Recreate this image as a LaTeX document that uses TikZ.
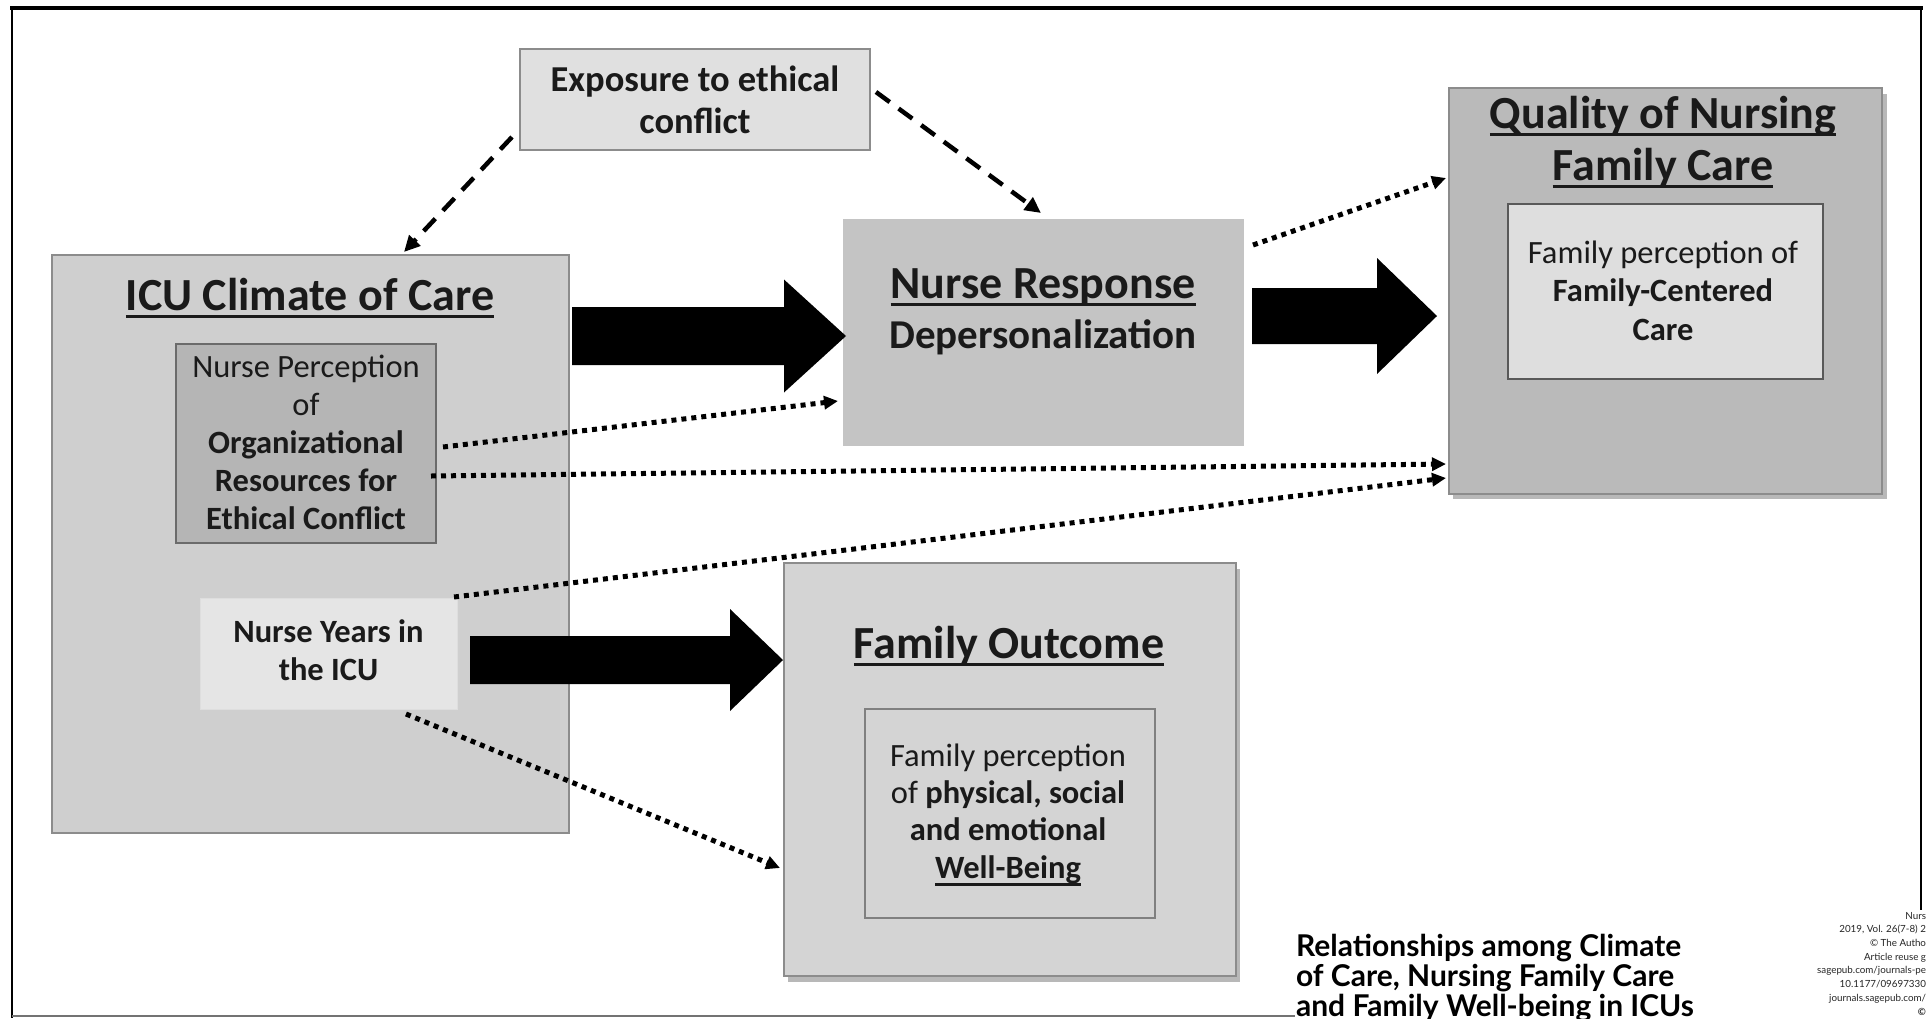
\documentclass[tikz,border=0pt]{standalone}
\usepackage{fontspec}
\setmainfont{Carlito}
\newfontfamily\capfont{Lato}
\usetikzlibrary{arrows.meta,calc}
\definecolor{txt}{HTML}{1A1A1A}
\newsavebox\ulbox
\newcommand\ttl[1]{\sbox\ulbox{#1}\rlap{\vrule height -5pt depth 7.8pt width \wd\ulbox}\usebox\ulbox}
\newcommand\fatarrow[5]{%
  \fill[black] let \p1=(#1), \p2=(#2) in
    (\x1,\y2+#3) -- (\x2-#5,\y2+#3) -- (\x2-#5,\y2+#4) -- (\x2,\y2)
    -- (\x2-#5,\y2-#4) -- (\x2-#5,\y2-#3) -- (\x1,\y2-#3) -- cycle;}
\begin{document}
\begin{tikzpicture}[x=1pt,y=-1pt,
  box/.style={inner sep=0pt, outer sep=0pt, line width=2.5pt},
  lbl/.style={inner sep=0pt, outer sep=0pt, align=center, text=txt},
  bigt/.style={lbl, font=\fontsize{46}{52}\selectfont\bfseries},
  midt/.style={lbl, font=\fontsize{32.5}{38}\selectfont},
  dasharr/.style={line width=4.5pt, dash pattern=on 17pt off 11pt, -{Triangle[length=16pt,width=15pt]}},
  dotarr/.style={line width=5pt, dash pattern=on 5pt off 5pt, -{Triangle[length=14pt,width=13pt]}},
  shadow/.style={fill=black!28, draw=none}
]
\useasboundingbox (0,0) rectangle (1926,1018);
\clip (0,0) rectangle (1926,1018);
\fill[white] (0,0) rectangle (1926,1018);

% frame
\draw[line width=4pt] (10,8) -- (1923,8);
\draw[line width=2.5pt] (12,8) -- (12,1018);
\draw[line width=2.5pt] (1921,8) -- (1921,910);
\draw[line width=2pt, black!55] (12,1016) -- (1295,1016);

% shadows
\fill[shadow] (1453,94) rectangle (1887,499);
\fill[shadow] (788,569) rectangle (1240,982);

% boxes
\node[box, draw=black!45, fill=black!12, minimum width=350pt, minimum height=101pt] (expo) at (695,99.5) {};
\node[box, draw=black!45, fill=black!19, minimum width=517pt, minimum height=578pt] (icu) at (310.5,544) {};
\node[box, draw=black!58, fill=black!29, minimum width=260pt, minimum height=199pt] (perc) at (306,443.5) {};
\node[box, draw=black!13, line width=1pt, fill=black!10, minimum width=257pt, minimum height=111pt] (years) at (328.5,653.5) {};
\node[box, draw=none, fill=black!23, minimum width=401pt, minimum height=227pt] (resp) at (1043.5,332.5) {};
\node[box, draw=black!45, fill=black!27, minimum width=433pt, minimum height=406pt] (qual) at (1665.5,291) {};
\node[box, draw=black!65, line width=2pt, fill=black!13, minimum width=315pt, minimum height=175pt] (qin) at (1665.5,291.5) {};
\node[box, draw=black!45, fill=black!17, minimum width=452pt, minimum height=413pt] (fam) at (1010,769.5) {};
\node[box, draw=black!50, line width=2pt, fill=black!17, minimum width=290pt, minimum height=209pt] (fin) at (1010,813.5) {};

% labels (anchor=base is the baseline of the last line)
\node[lbl, anchor=base, font=\fontsize{36.5}{42}\selectfont\bfseries] (expoT) at (695,133) {Exposure to ethical\\conflict};
\node[bigt, anchor=base] (icuT) at (310,310) {\ttl{ICU Climate of Care}};
\node[midt, anchor=base] (percT) at (306,529) {Nurse Perception\\of\\\textbf{Organizational}\\\textbf{Resources for}\\\textbf{Ethical Conflict}};
\node[midt, anchor=base, font=\fontsize{32.5}{38}\selectfont\bfseries] (yearsT) at (328.5,680) {Nurse Years in\\the ICU};
\node[bigt, anchor=base] (respT) at (1043,298) {\ttl{Nurse Response}};
\node[lbl, anchor=base, font=\fontsize{41}{48}\selectfont\bfseries] (respS) at (1043,348) {Depersonalization};
\node[bigt, anchor=base] (qualT) at (1663,180) {\ttl{Quality of Nursing}\\\ttl{Family Care}};
\node[midt, anchor=base, font=\fontsize{32.5}{38.5}\selectfont] (qinT) at (1663,340) {Family perception of\\\textbf{Family-Centered}\\\textbf{Care}};
\node[bigt, anchor=base] (famT) at (1009,658) {\ttl{Family Outcome}};
\node[midt, anchor=base, font=\fontsize{32.5}{37.3}\selectfont] (finT) at (1008,878) {Family perception\\of \textbf{physical, social}\\\textbf{and emotional}\\\textbf{\ttl{Well-Being}}};

% caption and journal text
\node[lbl, anchor=base west, align=left, text=black, font=\capfont\bfseries\fontsize{30}{30}\selectfont] (cap) at (1296,1016) {Relationships among Climate\\of Care, Nursing Family Care\\and Family Well-being in ICUs};
\node[lbl, anchor=base east, align=right, text=black!85, font=\capfont\fontsize{9.8}{13.7}\selectfont] (jr) at (1926,1015) {Nurs\\2019, Vol. 26(7-8) 2\\\textcopyright{} The Autho\\Article reuse g\\sagepub.com/journals-pe\\10.1177/09697330\\journals.sagepub.com/\\\textbf{\textcopyright}};

% big arrows
\coordinate (a1s) at ($(icu.east |- resp.west)+(3,3.5)$);
\coordinate (a1e) at ($(resp.west)+(3,3.5)$);
\fatarrow{a1s}{a1e}{29}{56.5}{62}
\coordinate (a2s) at ($(resp.east)+(8,-16.5)$);
\coordinate (a2e) at ($(qual.west |- resp.east)+(-12,-16.5)$);
\fatarrow{a2s}{a2e}{28}{58}{60}
\coordinate (a3s) at ($(years.east)+(13,6.5)$);
\coordinate (a3e) at ($(fam.west |- years.east)+(-1,6.5)$);
\fatarrow{a3s}{a3e}{24}{51}{53}

% dashed arrows
\draw[dasharr] ($(expo.south west)+(-8,-13)$) -- ($(icu.north)+(93.5,-3)$);
\draw[dasharr] ($(expo.east)+(6,-7.5)$) -- ($(resp.north)+(-2.5,-6)$);

% dotted arrows
\draw[dotarr] ($(resp.north east)+(9,26)$) -- ($(qual.north west)+(-3,90)$);
\draw[dotarr] ($(perc.east)+(7,3.5)$) -- ($(resp.south west)+(-5,-45)$);
\draw[dotarr] ($(perc.east)+(-5,32.5)$) -- ($(qual.south west)+(-3,-30)$);
\draw[dotarr] ($(years.north east)+(-3,-1)$) -- ($(qual.south west)+(-3,-16)$);
\draw[dotarr] ($(years.south)+(77.5,5)$) -- ($(fam.west)+(-4,98.5)$);
\end{tikzpicture}
\end{document}
